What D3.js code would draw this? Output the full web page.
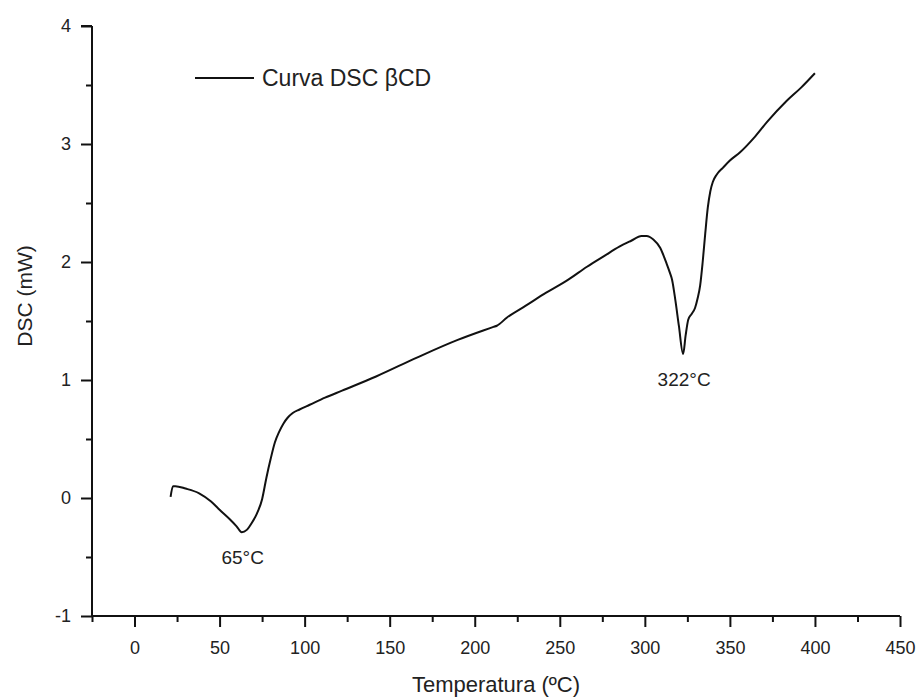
<!DOCTYPE html>
<html>
<head>
<meta charset="utf-8">
<script src="https://cdn.jsdelivr.net/npm/d3@7"></script>
<style>
  body { margin: 0; background: #fff; }
  svg text { font-family: Arial, "Liberation Sans", sans-serif; fill: #222; }
</style>
</head>
<body>
<svg id="chartSVG"></svg>
<script>
// values
let temps = [21.2, 22.6, 24, 30, 38, 45, 50, 56, 60, 63, 66, 69, 72, 75, 77.5, 80, 82.5, 85, 87.5, 90,
  93, 97, 103, 112, 122, 142, 166, 190, 205, 211, 213, 219, 230, 242, 255, 266, 276, 285, 292, 298,
  301, 305, 309, 312.7, 314.7, 316, 318, 320, 322.5, 324, 325.5, 327.5, 329.5, 331, 332.5, 334, 335.5,
  337, 338.5, 340, 342.2, 346, 350, 356, 364, 372, 383, 392, 400];
let dsc = [0.01, 0.10, 0.10, 0.08, 0.04, -0.03, -0.10, -0.18, -0.24, -0.29, -0.27, -0.21, -0.13, -0.01, 0.17, 0.33, 0.47, 0.56, 0.63, 0.68,
  0.72, 0.75, 0.79, 0.85, 0.91, 1.03, 1.19, 1.34, 1.42, 1.45, 1.46, 1.53, 1.63, 1.74, 1.85, 1.96, 2.05, 2.13, 2.18, 2.22,
  2.22, 2.19, 2.12, 1.99, 1.91, 1.85, 1.67, 1.46, 1.22, 1.38, 1.51, 1.56, 1.61, 1.69, 1.80, 2.00, 2.24,
  2.46, 2.60, 2.68, 2.74, 2.80, 2.86, 2.93, 3.05, 3.19, 3.36, 3.48, 3.60];

let xTicks = [0, 50, 100, 150, 200, 250, 300, 350, 400, 450];
let xMinor = [-25, 25, 75, 125, 175, 225, 275, 325, 375, 425];
let yTicks = [-1, 0, 1, 2, 3, 4];
let yMinor = [-0.5, 0.5, 1.5, 2.5, 3.5];

let peaks = [
  {t: 63, v: -0.29, label: '65°C'},
  {t: 322.5, v: 1.22, label: '322°C'}
];

let widthSVG = 918;
let heightSVG = 700;

let SVG = d3.select('svg#chartSVG')
            .attr('width', widthSVG)
            .attr('height', heightSVG);

let x = d3.scaleLinear().domain([-25, 450]).range([92, 900]);
let y = d3.scaleLinear().domain([-1, 4]).range([616, 26]);

// axes
function drawAxis(gen, tv, size, cls, transform, labels) {
  let a = gen.tickValues(tv).tickSizeOuter(0).tickSizeInner(size).tickPadding(8);
  if (labels) a.tickFormat(d => String(d));
  else a.tickFormat('');
  let g = SVG.append('g').attr('class', cls).attr('transform', transform).call(a);
  g.select('.domain').remove();
  g.selectAll('line').attr('stroke', '#111').attr('stroke-width', 2);
  g.selectAll('text').style('font-size', '18px').attr('fill', '#222');
  return g;
}

drawAxis(d3.axisBottom(x), xTicks, 11, 'x axis', `translate(0, 616)`, true);
drawAxis(d3.axisBottom(x), xMinor, 6, 'x minor', `translate(0, 616)`, false);
drawAxis(d3.axisLeft(y), yTicks, 11, 'y axis', `translate(92, 0)`, true)
  .selectAll('text').attr('dx', '-2');
drawAxis(d3.axisLeft(y), yMinor, 6, 'y minor', `translate(92, 0)`, false);

SVG.selectAll('g.x.axis text').attr('dy', '1.05em');

// axis lines
SVG.append('path')
   .attr('d', `M${x(-25)},${y(4)}H${x(-25) - 11}M${x(-25)},${y(4)}V${y(-1)}H${x(450)}`)
   .attr('fill', 'none')
   .attr('stroke', '#111')
   .attr('stroke-width', 2);

// the curve
let pts = temps.map((t, i) => [t, dsc[i]]);
let line = d3.line()
             .x(d => x(d[0]))
             .y(d => y(d[1]))
             .curve(d3.curveMonotoneX);

SVG.append('path')
   .datum(pts)
   .attr('d', line)
   .attr('fill', 'none')
   .attr('stroke', '#111')
   .attr('stroke-width', 2)
   .attr('stroke-linejoin', 'round');

// peak labels
SVG.selectAll('text.peak')
   .data(peaks)
   .enter()
   .append('text')
   .classed('peak', true)
   .text(d => d.label)
   .attr('x', d => x(d.t) + 1)
   .attr('y', d => y(d.v) + 32)
   .style('text-anchor', 'middle')
   .style('font-size', '19px');

// legend
SVG.append('line')
   .attr('x1', 195).attr('x2', 254)
   .attr('y1', 78).attr('y2', 78)
   .attr('stroke', '#111').attr('stroke-width', 2);
SVG.append('text')
   .text('Curva DSC βCD')
   .attr('x', 262).attr('y', 86)
   .style('font-size', '23px');

// axis titles
SVG.append('text')
   .text('Temperatura (ºC)')
   .attr('x', (x(-25) + x(450)) / 2)
   .attr('y', 692)
   .style('text-anchor', 'middle')
   .style('font-size', '22px');

SVG.append('text')
   .text('DSC (mW)')
   .attr('transform', `translate(32, 296) rotate(-90)`)
   .style('text-anchor', 'middle')
   .style('font-size', '21px');
</script>
</body>
</html>
